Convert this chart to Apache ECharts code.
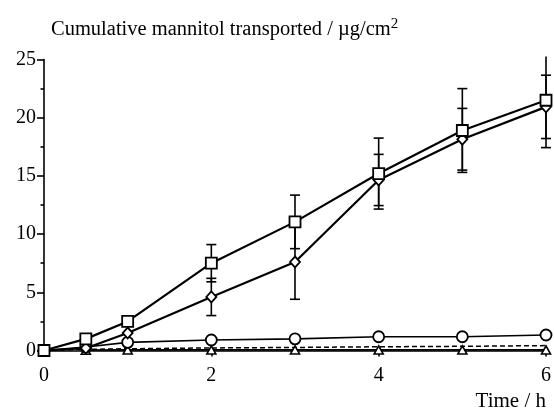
<!DOCTYPE html>
<html>
<head>
<meta charset="utf-8">
<script src="https://cdn.jsdelivr.net/npm/echarts@6/dist/echarts.min.js"></script>
<style>
  html, body {margin: 0; padding: 0; background: #fff;}
  #main {width: 554px; height: 417px;}
</style>
</head>
<body>
<div id="main"></div>
<script>
// time points (h)
const hours = [0, 0.5, 1, 2, 3, 4, 5, 6];

// open squares
const squareVals = [0, 1.0, 2.5, 7.5, 11.05, 15.2, 18.9, 21.5];
const squareErr = [0, 0, 0, 1.6, 2.3, 3.05, 3.6, 4.07];

// open diamonds
const diamondVals = [0, 0.2, 1.5, 4.6, 7.6, 14.65, 18.15, 20.93];
const diamondErr = [0, 0, 0, 1.6, 3.2, 2.2, 2.65, 2.72];

// open circles
const circleVals = [0, 0.3, 0.7, 0.9, 1.0, 1.18, 1.18, 1.33];

// open triangles (solid line)
const triangleVals = [0, 0.03, 0.05, 0.05, 0.05, 0.05, 0.05, 0.05];

// dashed line, no markers
const dashedVals = [0, 0.1, 0.15, 0.22, 0.26, 0.32, 0.36, 0.42];

const font = '"Liberation Serif", "DejaVu Serif", serif';
const Y_TOP = 25;

function pairs(vals) {
  return hours.map((h, i) => [h, vals[i]]);
}

function errItems(vals, errs) {
  const out = [];
  hours.forEach((h, i) => {
    if (errs[i] > 0) out.push([h, vals[i], errs[i]]);
  });
  return out;
}

function errRender(params, api) {
  const x = api.value(0), y = api.value(1), e = api.value(2);
  const hi = y + e, lo = y - e;
  const clipped = hi > Y_TOP;
  const pTop = api.coord([x, clipped ? Y_TOP + 0.25 : hi]);
  const pBot = api.coord([x, lo]);
  const cap = 5;
  const style = {stroke: '#000', lineWidth: 1.6, fill: null};
  const children = [
    {type: 'line', shape: {x1: pTop[0], y1: pTop[1], x2: pBot[0], y2: pBot[1]}, style: style},
    {type: 'line', shape: {x1: pBot[0] - cap, y1: pBot[1], x2: pBot[0] + cap, y2: pBot[1]}, style: style}
  ];
  if (!clipped) {
    children.push({type: 'line', shape: {x1: pTop[0] - cap, y1: pTop[1], x2: pTop[0] + cap, y2: pTop[1]}, style: style});
  }
  return {type: 'group', children: children};
}

const chart = echarts.init(document.getElementById('main'));

const option = {
  animation: false,
  backgroundColor: '#fff',
  textStyle: {fontFamily: font},
  title: {
    text: 'Cumulative mannitol transported / \u00b5g/cm{s|2}',
    left: 46,
    top: 12,
    textStyle: {
      fontFamily: font,
      fontSize: 20.5,
      fontWeight: 'normal',
      color: '#000',
      rich: {s: {fontSize: 15, fontFamily: font, verticalAlign: 'top', padding: [0, 0, 10, 0], color: '#000'}}
    }
  },
  grid: {left: 44, right: 6, top: 59.5, bottom: 66.5, containLabel: false},
  xAxis: {
    type: 'value',
    min: 0,
    max: 6,
    interval: 2,
    name: 'Time / h',
    nameLocation: 'end',
    nameGap: 0,
    nameTextStyle: {
      fontFamily: font, fontSize: 21, color: '#000',
      align: 'right', verticalAlign: 'top', padding: [40, 0, 0, 0]
    },
    axisLine: {show: true, lineStyle: {color: '#000', width: 1.6}},
    axisTick: {show: true, inside: false, length: 6, lineStyle: {color: '#000', width: 1.6}},
    axisLabel: {fontFamily: font, fontSize: 20, color: '#000', margin: 15},
    splitLine: {show: false}
  },
  yAxis: {
    type: 'value',
    min: 0,
    max: 25,
    interval: 5,
    axisLine: {show: true, lineStyle: {color: '#000', width: 1.6}},
    axisTick: {show: true, length: 7, lineStyle: {color: '#000', width: 1.6}},
    minorTick: {show: true, splitNumber: 2, length: 3.5, lineStyle: {color: '#000', width: 1.6}},
    axisLabel: {fontFamily: font, fontSize: 20, color: '#000', margin: 8},
    splitLine: {show: false}
  },
  series: [
    {
      name: 'dashed',
      type: 'line',
      data: pairs(dashedVals),
      symbol: 'none',
      lineStyle: {color: '#000', width: 1.5, type: [5, 3]},
      z: 2
    },
    {
      name: 'triangle',
      type: 'line',
      data: pairs(triangleVals).slice(1),
      symbol: 'triangle',
      symbolSize: [9, 8],
      itemStyle: {color: '#fff', borderColor: '#000', borderWidth: 1.6},
      lineStyle: {color: '#000', width: 1.6},
      z: 3
    },
    {
      name: 'circle',
      type: 'line',
      data: pairs(circleVals),
      symbol: 'circle',
      symbolSize: 11,
      itemStyle: {color: '#fff', borderColor: '#000', borderWidth: 1.8},
      lineStyle: {color: '#000', width: 1.6},
      z: 4
    },
    {
      name: 'diamondErr',
      type: 'custom',
      renderItem: errRender,
      data: errItems(diamondVals, diamondErr),
      clip: false,
      z: 5
    },
    {
      name: 'squareErr',
      type: 'custom',
      renderItem: errRender,
      data: errItems(squareVals, squareErr),
      clip: false,
      z: 5
    },
    {
      name: 'diamond',
      type: 'line',
      data: pairs(diamondVals),
      symbol: 'diamond',
      symbolSize: [10, 11],
      itemStyle: {color: '#fff', borderColor: '#000', borderWidth: 1.8},
      lineStyle: {color: '#000', width: 2.2},
      z: 6
    },
    {
      name: 'square',
      type: 'line',
      data: pairs(squareVals),
      symbol: 'rect',
      symbolSize: 11,
      itemStyle: {color: '#fff', borderColor: '#000', borderWidth: 1.8},
      lineStyle: {color: '#000', width: 2.2},
      z: 7
    }
  ]
};

chart.setOption(option);
</script>
</body>
</html>
